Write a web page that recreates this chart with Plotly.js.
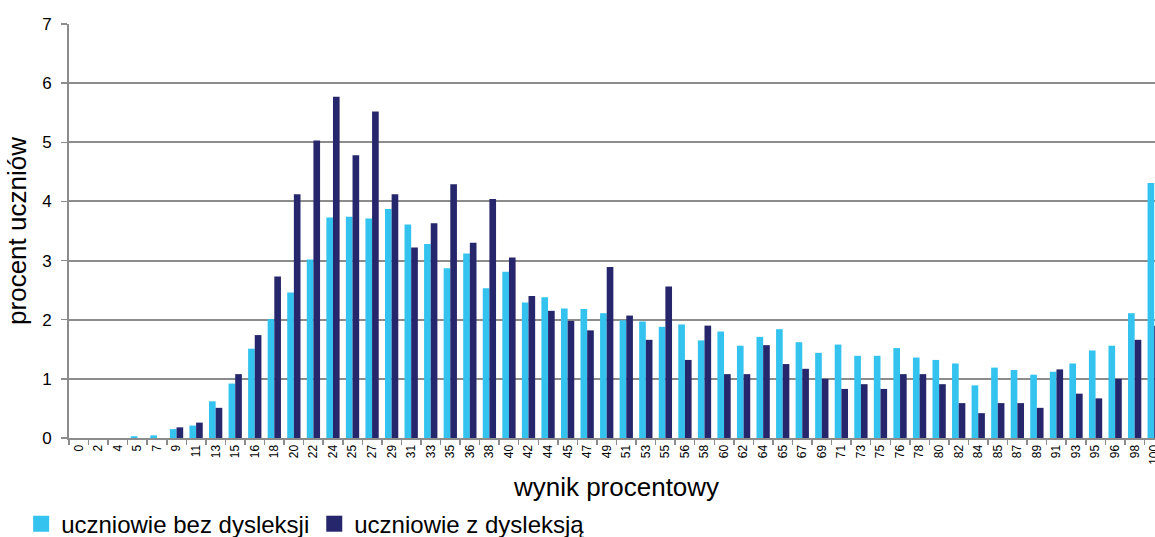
<!DOCTYPE html>
<html>
<head>
<meta charset="utf-8">
<script src="https://cdn.plot.ly/plotly-3.0.1.min.js"></script>
<style>
html, body { margin:0; padding:0; overflow:hidden; background:#fff; width:1155px; height:537px; }
#chart { width:1175px; height:537px; }
</style>
</head>
<body>
<div id="chart"></div>
<script>
const categories = ['0','2','4','5','7','9','11','13','15','16','18','20','22','24','25','27','29','31','33','35','36','38','40','42','44','45','47','49','51','53','55','56','58','60','62','64','65','67','69','71','73','75','76','78','80','82','84','85','87','89','91','93','95','96','98','100'];
const bezDysleksji = [0,0,0,0.03,0.045, 0.15,0.21,0.62,0.92,1.51, 2.01,2.46,3.02,3.73,3.74, 3.71,3.87,3.61,3.28,2.87, 3.12,2.53,2.81,2.29,2.38, 2.19,2.18,2.11,1.99,1.97, 1.88,1.92,1.65,1.80,1.56, 1.71,1.84,1.62,1.44,1.58, 1.39,1.39,1.52,1.36,1.32, 1.26,0.89,1.19,1.15,1.07, 1.12,1.26,1.48,1.56,2.11, 4.31];
const zDysleksja = [0,0,0,0,0, 0.18,0.26,0.51,1.08,1.74, 2.73,4.12,5.03,5.77,4.78, 5.52,4.12,3.22,3.63,4.29, 3.30,4.04,3.05,2.40,2.15, 1.98,1.82,2.89,2.07,1.66, 2.56,1.32,1.90,1.08,1.08, 1.57,1.25,1.17,1.00,0.83, 0.91,0.83,1.08,1.08,0.91, 0.59,0.42,0.59,0.59,0.51, 1.16,0.75,0.67,1.00,1.66, 1.90];
const seriesNames = ['uczniowie bez dysleksji', 'uczniowie z dysleksją'];
const seriesColors = ['#33C3EE', '#26266C'];
const yTicks = [0,1,2,3,4,5,6,7];

const FONT = 'Arial, "Liberation Sans", sans-serif';
const traces = [
  {type:'bar', name:seriesNames[0], x:categories, y:bezDysleksji, marker:{color:seriesColors[0], line:{width:0}}, showlegend:false, legendgroup:'a'},
  {type:'bar', name:seriesNames[1], x:categories, y:zDysleksja, marker:{color:seriesColors[1], line:{width:0}}, showlegend:false, legendgroup:'b'},
  {type:'scatter', mode:'markers', name:seriesNames[0], x:[null], y:[null], marker:{symbol:'square', size:16, color:seriesColors[0]}, legendgroup:'a', hoverinfo:'skip'},
  {type:'scatter', mode:'markers', name:seriesNames[1], x:[null], y:[null], marker:{symbol:'square', size:16, color:seriesColors[1]}, legendgroup:'b', hoverinfo:'skip'}
];
const layout = {
  width:1175, height:537,
  margin:{l:69, r:11, t:24, b:99},
  paper_bgcolor:'#fff', plot_bgcolor:'#fff',
  barmode:'group', bargap:0.32, bargroupgap:0,
  font:{family:FONT, color:'#000'},
  showlegend:true,
  legend:{orientation:'h', xref:'container', yref:'container', x:0.018, y:0.024, xanchor:'left', yanchor:'middle',
          font:{size:24, family:FONT, color:'#000'}, itemsizing:'trace', tracegroupgap:0, traceorder:'normal'},
  xaxis:{type:'category', showgrid:false, zeroline:false, showline:true, linecolor:'#8c8c8c', linewidth:2,
         ticks:'outside', tickson:'boundaries', ticklen:5, tickcolor:'#8c8c8c', tickwidth:1.5,
         tickangle:-90, tickfont:{size:12, family:FONT}, automargin:false,
         title:{text:'wynik procentowy', font:{size:26, family:FONT}, standoff:18}},
  yaxis:{range:[0,7], tickvals:yTicks, showgrid:true, gridcolor:'#8c8c8c', gridwidth:2, zeroline:false,
         showline:true, linecolor:'#8c8c8c', linewidth:2, ticks:'outside', ticklen:6, tickcolor:'#8c8c8c', tickwidth:1.5,
         tickfont:{size:17, family:FONT}, ticklabelstandoff:6, automargin:false,
         title:{text:'procent uczniów', font:{size:26, family:FONT}, standoff:8}}
};
Plotly.newPlot('chart', traces, layout, {displayModeBar:false, staticPlot:true});
</script>
</body>
</html>
